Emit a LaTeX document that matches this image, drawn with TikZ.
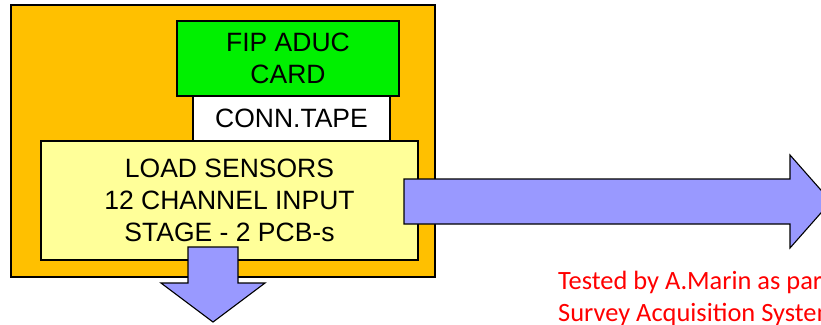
\documentclass[tikz,border=0pt]{standalone}
\usepackage{fontspec}
\setmainfont{Liberation Sans}
\newfontfamily\notefont{Carlito}
\usetikzlibrary{positioning,calc}
\definecolor{boardorange}{HTML}{FFC000}
\definecolor{cardgreen}{HTML}{00F000}
\definecolor{stageyellow}{HTML}{FFFF99}
\definecolor{arrowblue}{HTML}{9999FF}
\definecolor{notered}{HTML}{FF0000}
\tikzset{
  blk/.style={draw=black, line width=1.1pt, inner sep=0pt, align=center,
    font=\fontsize{26.5}{32}\selectfont},
  board/.style={blk, fill=boardorange},
  card/.style={blk, fill=cardgreen},
  tape/.style={blk, fill=white},
  stage/.style={blk, fill=stageyellow},
  % the big block arrows
  barrow/.style={draw=black, line width=1.1pt, fill=arrowblue, line join=miter},
  note/.style={font=\notefont\fontsize{26.4}{32}\selectfont, text=notered,
    align=left, anchor=north west, inner sep=0pt},
}
\begin{document}
\begin{tikzpicture}[x=1pt,y=-1pt]
  \useasboundingbox (0,0) rectangle (821,324);
  \clip (0,0) rectangle (821,324);
  \node[board, minimum width=424pt, minimum height=272pt] (B) at (223,141) {};
  \node[card, minimum width=222pt, minimum height=75pt] (G) at (288,58.5)
      {FIP ADUC\\CARD};
  \node[tape, minimum width=197pt, minimum height=45pt] (T) at (291.5,118.5)
      {CONN.TAPE};
  \node[stage, minimum width=377pt, minimum height=119pt] (S) at (229.5,200.5)
      {LOAD SENSORS\\12 CHANNEL INPUT\\STAGE - 2 PCB-s};
  % out to the right
  \coordinate (R) at (404,201.5);
  \draw[barrow] ($(R)+(0,-22.5)$) -- ++(386,0) -- ++(0,-24) -- ($(R)+(427,0)$)
      -- ($(R)+(386,46.5)$) -- ++(0,-24) -- ($(R)+(0,22.5)$) -- cycle;
  % down from the stage
  \coordinate (D) at (213,247);
  \draw[barrow] ($(D)+(-25,0)$) -- ++(50,0) -- ++(0,36) -- ++(27,0) -- ($(D)+(0,75)$)
      -- ($(D)+(-52,36)$) -- ++(27,0) -- cycle;
  \node[note] (N) at (558,271) {Tested by A.Marin as part\\Survey Acquisition System};
\end{tikzpicture}
\end{document}
